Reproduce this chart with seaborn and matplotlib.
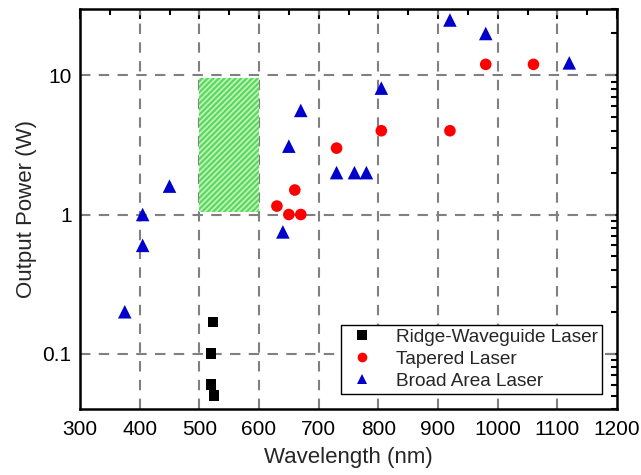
import matplotlib
matplotlib.use("Agg")
import matplotlib.pyplot as plt
import seaborn as sns
import pandas as pd
import numpy as np
from matplotlib.patches import Rectangle
from matplotlib.lines import Line2D
from matplotlib.ticker import LogLocator, MultipleLocator, FixedLocator, NullFormatter, FixedFormatter

# ---- data ----
ridge_wl = [523, 520, 520, 524]
ridge_pw = [0.168, 0.10, 0.06, 0.05]

tapered_wl = [630, 650, 660, 670, 730, 805, 920, 980, 1060]
tapered_pw = [1.15, 1.0, 1.5, 1.0, 3.0, 4.0, 4.0, 12.0, 12.0]

broad_wl = [375, 405, 405, 450, 640, 650, 670, 730, 760, 780, 805, 920, 980, 1120]
broad_pw = [0.2, 0.6, 1.0, 1.6, 0.75, 3.1, 5.6, 2.0, 2.0, 2.0, 8.1, 25.0, 20.0, 12.3]

labels = ["Ridge-Waveguide Laser", "Tapered Laser", "Broad Area Laser"]
colors = ["#000000", "#ff0000", "#0000cc"]
markers = ["s", "o", "^"]
marker_sizes = [55, 70, 95]

x_ticks = [300, 400, 500, 600, 700, 800, 900, 1000, 1100, 1200]
y_ticks = [0.1, 1, 10]
y_ticklabels = ["0.1", "1", "10"]

green_band_x = [500, 600]
green_band_y = [1.05, 9.6]

series = [(ridge_wl, ridge_pw), (tapered_wl, tapered_pw), (broad_wl, broad_pw)]

sns.set_theme(style="white")
plt.rcParams["font.family"] = ["Liberation Sans", "DejaVu Sans"]
plt.rcParams["hatch.linewidth"] = 1.2

fig = plt.figure(figsize=(6.41, 4.75), dpi=100)
ax = fig.add_axes([80 / 641, 1 - 409 / 475, 537 / 641, 400 / 475])

ax.set_yscale("log")
ax.set_xlim(300, 1200)
ax.set_ylim(0.04, 30)

# grid
for xv in x_ticks[1:-1]:
    ax.axvline(xv, color="#808080", lw=1.5, ls=(0, (5, 4)), zorder=1)
for yv in y_ticks:
    ax.axhline(yv, color="#808080", lw=1.5, ls=(0, (5, 4)), zorder=1)

# green hatched region
rect = Rectangle((green_band_x[0], green_band_y[0]), green_band_x[1] - green_band_x[0],
                 green_band_y[1] - green_band_y[0], facecolor="#5ada5a", edgecolor="#c4f2c4",
                 hatch="//////", linewidth=0, zorder=2)
ax.add_patch(rect)

for (wl, pw), lab, col, mk, sz in zip(series, labels, colors, markers, marker_sizes):
    d = pd.DataFrame({"Wavelength": wl, "Power": pw})
    sns.scatterplot(data=d, x="Wavelength", y="Power", color=col, marker=mk, s=sz,
                    edgecolor="none", ax=ax, zorder=3, legend=False)

# ticks
ax.xaxis.set_major_locator(FixedLocator(x_ticks))
ax.xaxis.set_minor_locator(MultipleLocator(50))
ax.yaxis.set_major_locator(FixedLocator(y_ticks))
ax.yaxis.set_major_formatter(FixedFormatter(y_ticklabels))
ax.yaxis.set_minor_locator(LogLocator(base=10, subs=np.arange(2, 10), numticks=20))
ax.yaxis.set_minor_formatter(NullFormatter())
ax.tick_params(which="both", direction="in", top=True, right=True, width=1.5, colors="black",
               labelsize=15, pad=6)
ax.tick_params(which="major", length=7)
ax.tick_params(which="minor", length=4)
ax.tick_params(axis="x", which="major", pad=8)
ax.grid(False)

for sp in ax.spines.values():
    sp.set_linewidth(1.8)
    sp.set_color("black")

ax.set_xlabel("Wavelength (nm)", fontsize=16, labelpad=6)
ax.set_ylabel("Output Power (W)", fontsize=16, labelpad=4)

handles = [Line2D([], [], ls="none", marker=mk, color=col, markersize=7, markeredgewidth=0)
           for col, mk in zip(colors, markers)]
leg = ax.legend(handles, labels, loc="lower right", bbox_to_anchor=(0.972, 0.038), fontsize=13.7,
                frameon=True, fancybox=False, edgecolor="black", framealpha=1,
                handletextpad=0.9, handlelength=1.8, borderpad=0.2, labelspacing=0.25,
                borderaxespad=0.0)
leg.get_frame().set_linewidth(1.0)

fig.savefig("out.png", dpi=100)
